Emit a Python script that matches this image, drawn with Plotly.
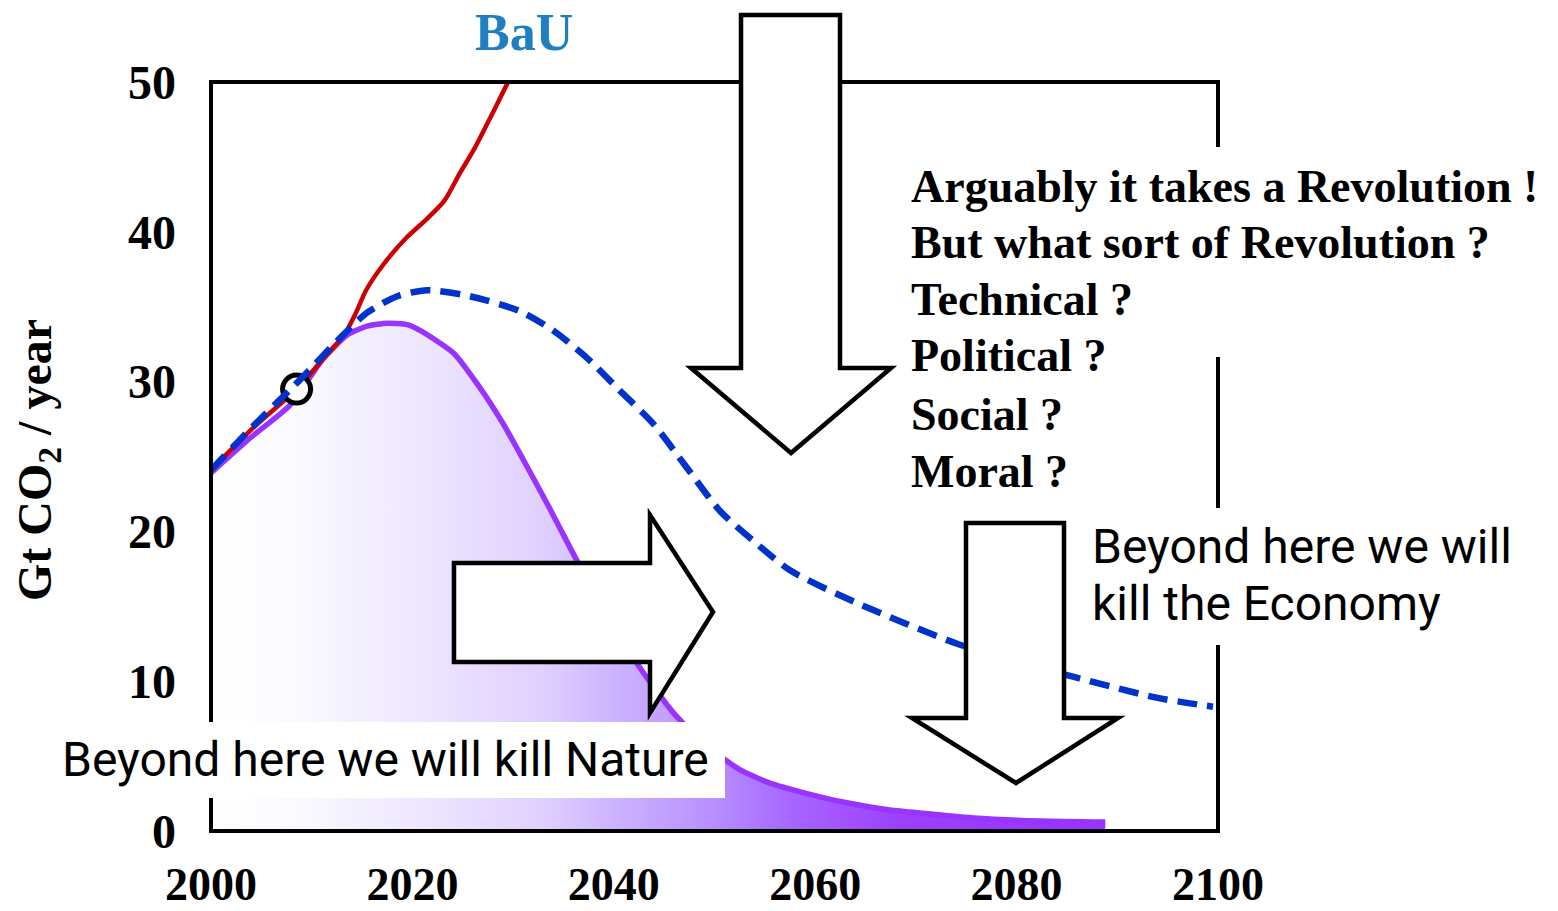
import plotly.graph_objects as go

# ---------------- data ----------------
bau_years = [2000, 2004, 2008.5, 2011, 2013.3, 2014.4, 2015.4, 2017.1, 2019.4,
             2021.5, 2023.2, 2024.7, 2026.2, 2028.1, 2029.5]
bau_vals = [24.1, 26.8, 29.5, 31.4, 33.2, 34.6, 36.1, 37.8, 39.6,
            40.9, 42.1, 43.9, 45.6, 48.1, 50.0]

path_years = [2000, 2004, 2008.8, 2012.8, 2015.5, 2018.5, 2021.5, 2025.7, 2030.7,
              2034, 2037.3, 2040.6, 2043.9, 2047.2, 2050.5, 2053.8, 2057.5,
              2064.2, 2074.1, 2080, 2085.6, 2093.9, 2099.5]
path_vals = [24.1, 26.9, 30.1, 32.9, 34.6, 35.7, 36.1, 35.7, 34.7,
             33.4, 31.6, 29.4, 27.2, 24.3, 21.4, 19.4, 17.4,
             15.2, 12.5, 11.3, 10.3, 8.9, 8.3]

nature_years = [2000, 2004, 2007.8, 2011.1, 2013.5, 2015.5, 2017.5, 2019.5, 2020.8,
                2024.1, 2026.7, 2029.0, 2031.0, 2033.5, 2036.3, 2039.5, 2042.6, 2045.9,
                2049, 2052.5, 2055.5, 2059.2, 2063, 2067.4, 2071.3, 2075.7,
                2082.3, 2088.8]
nature_vals = [23.9, 26.3, 28.4, 31.5, 33.1, 33.7, 33.9, 33.8, 33.4,
               31.9, 29.6, 27.2, 24.8, 21.7, 18.1, 14.3, 10.9, 7.9,
               5.8, 4.1, 3.2, 2.5, 1.9, 1.4, 1.15, 0.87,
               0.67, 0.6]

today_year = [2008.5]
today_val = [29.5]

x_ticks = [2000, 2020, 2040, 2060, 2080, 2100]
y_ticks = [0, 10, 20, 30, 40, 50]

question_lines = ["Arguably it takes a Revolution !",
                  "But what sort of Revolution ?",
                  "Technical ?",
                  "Political ?",
                  "Social ?",
                  "Moral ?"]
economy_lines = ["Beyond here we will", "kill the Economy"]
nature_text = "Beyond here we will kill Nature"
bau_label = "BaU"
y_title = "Gt CO<sub>2</sub> / year"

# ---------------- geometry helpers (pixel -> paper) ----------------
W, H = 1558, 911
L, R, T, B = 211, 1218, 82, 831


def px(x):
    return (x - L) / (R - L)


def py(y):
    return (B - y) / (B - T)


SERIF = "Liberation Serif"
SANS = "Roboto"

fig = go.Figure()

fig.add_trace(go.Scatter(
    x=nature_years, y=nature_vals, mode="lines",
    line=dict(color="#9933ff", width=5.5, shape="spline", smoothing=0.6),
    fill="tozeroy",
    fillgradient=dict(type="horizontal",
                      colorscale=[[0, "#ffffff"], [0.09, "#fbfaff"], [0.24, "#ede6ff"],
                                  [0.37, "#e0d0ff"], [0.46, "#cbb0ff"], [0.56, "#b890ff"],
                                  [0.65, "#a766ff"], [0.77, "#9c40ff"], [1, "#9933ff"]]),
    showlegend=False, hoverinfo="skip"))

fig.add_trace(go.Scatter(
    x=bau_years, y=bau_vals, mode="lines",
    line=dict(color="#cc0000", width=4.5, shape="spline", smoothing=0.7),
    showlegend=False, hoverinfo="skip"))

fig.add_trace(go.Scatter(
    x=today_year, y=today_val, mode="markers",
    marker=dict(symbol="circle", size=28, color="white",
                line=dict(color="black", width=5)),
    showlegend=False, hoverinfo="skip"))

fig.add_trace(go.Scatter(
    x=path_years, y=path_vals, mode="lines",
    line=dict(color="#0033cc", width=6.5, dash="20px,10px", shape="spline", smoothing=0.7),
    showlegend=False, hoverinfo="skip"))

shapes = []
# plot frame
shapes.append(dict(type="rect", xref="paper", yref="paper", x0=0, x1=1, y0=0, y1=1,
                   line=dict(color="black", width=4), fillcolor="rgba(0,0,0,0)",
                   layer="above"))
white = dict(type="rect", xref="paper", yref="paper", fillcolor="white",
             line=dict(width=0), layer="above")
# gaps in the right frame line behind the text blocks
shapes.append(dict(white, x0=px(1205), x1=px(1232), y0=py(357), y1=py(147)))
shapes.append(dict(white, x0=px(1205), x1=px(1232), y0=py(645), y1=py(508)))
# white panel behind the "Nature" text
shapes.append(dict(white, x0=px(50), x1=px(725), y0=py(798), y1=py(722)))


def arrow_path(points):
    s = "M " + " L ".join(f"{px(a):.5f},{py(b):.5f}" for a, b in points) + " Z"
    return s


arrow_style = dict(type="path", xref="paper", yref="paper", fillcolor="white",
                   line=dict(color="black", width=4.5), layer="above")
# big down arrow at top
shapes.append(dict(arrow_style, path=arrow_path(
    [(741, 15), (840, 15), (840, 368), (891, 368), (791, 453), (691, 368), (741, 368)])))
# right arrow
shapes.append(dict(arrow_style, path=arrow_path(
    [(454, 563), (650, 563), (650, 515), (713, 612), (650, 713), (650, 662), (454, 662)])))
# down arrow bottom right
shapes.append(dict(arrow_style, path=arrow_path(
    [(966, 523), (1064, 523), (1064, 718), (1118, 718), (1016, 783), (912, 718), (966, 718)])))

annotations = []
q_centers = [186, 242, 299, 356, 414, 471]
for txt, yc in zip(question_lines, q_centers):
    annotations.append(dict(x=px(909), y=py(yc), xref="paper", yref="paper",
                            text=txt, showarrow=False, xanchor="left", yanchor="middle",
                            font=dict(family=SERIF, size=46, color="black", weight="bold")))
e_centers = [546, 604]
for txt, yc in zip(economy_lines, e_centers):
    annotations.append(dict(x=px(1090), y=py(yc), xref="paper", yref="paper",
                            text=txt, showarrow=False, xanchor="left", yanchor="middle",
                            font=dict(family=SANS, size=48, color="black")))
annotations.append(dict(x=px(60), y=py(759), xref="paper", yref="paper",
                        text=nature_text, showarrow=False, xanchor="left", yanchor="middle",
                        font=dict(family=SANS, size=48, color="black")))
annotations.append(dict(x=px(524), y=py(32), xref="paper", yref="paper",
                        text=bau_label, showarrow=False, xanchor="center", yanchor="middle",
                        font=dict(family=SERIF, size=52, color="#1f7fc0", weight="bold")))
annotations.append(dict(x=px(38), y=py(460), xref="paper", yref="paper",
                        text=y_title, showarrow=False, xanchor="center", yanchor="middle",
                        textangle=-90,
                        font=dict(family=SERIF, size=48, color="black", weight="bold")))

fig.update_layout(
    width=W, height=H,
    margin=dict(l=L, r=W - R, t=T, b=H - B, pad=0, autoexpand=False),
    paper_bgcolor="white", plot_bgcolor="white",
    shapes=shapes, annotations=annotations,
    showlegend=False,
    xaxis=dict(range=[2000, 2100], tickvals=x_ticks, ticktext=[str(v) for v in x_ticks],
               showgrid=False, zeroline=False, showline=False,
               ticks="", ticklabelstandoff=22, automargin=False,
               tickfont=dict(family=SERIF, size=46, color="black", weight="bold")),
    yaxis=dict(range=[0, 50], tickvals=y_ticks, ticktext=[str(v) for v in y_ticks],
               showgrid=False, zeroline=False, showline=False,
               ticks="", ticklabelstandoff=34, automargin=False,
               tickfont=dict(family=SERIF, size=48, color="black", weight="bold")),
)

fig.write_html("out.html", config={"displayModeBar": False},
               post_script="document.body.style.margin='0';document.body.style.overflow='hidden';")
